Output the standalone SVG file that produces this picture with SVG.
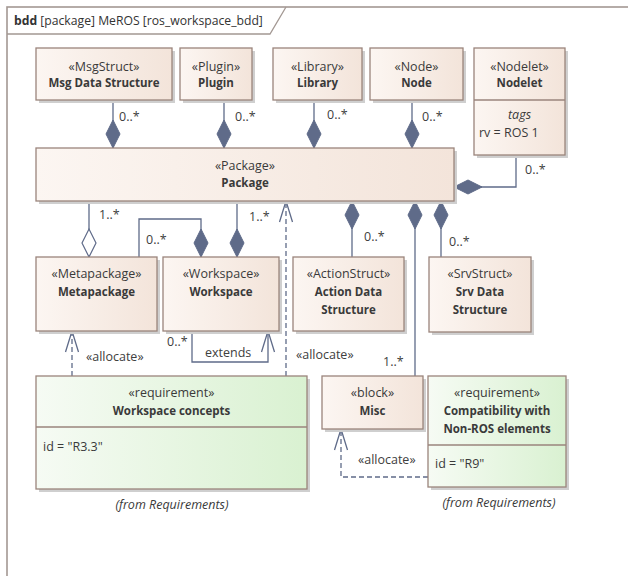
<svg xmlns="http://www.w3.org/2000/svg" width="628" height="576" viewBox="0 0 628 576">
<defs>
<linearGradient id="tan" x1="0" y1="0" x2="1" y2="0"><stop offset="0" stop-color="#fcf6f2"/><stop offset="1" stop-color="#f3e4da"/></linearGradient>
<linearGradient id="grn" x1="0" y1="0" x2="1" y2="0"><stop offset="0" stop-color="#f6fbf4"/><stop offset="1" stop-color="#d9f1d1"/></linearGradient>
<marker id="dia" markerUnits="userSpaceOnUse" markerWidth="40" markerHeight="40" refX="0" refY="0" orient="auto" overflow="visible"><path d="M0,0 L-14,-7 L-28,0 L-14,7 Z" fill="#5f6b89" stroke="#5f6b89" stroke-width="1"/></marker>
<marker id="hdia" markerUnits="userSpaceOnUse" markerWidth="40" markerHeight="40" refX="0" refY="0" orient="auto" overflow="visible"><path d="M0,0 L-14,-7 L-28,0 L-14,7 Z" fill="#ffffff" stroke="#5f6b89" stroke-width="1.2"/></marker>
<marker id="arr" markerUnits="userSpaceOnUse" markerWidth="40" markerHeight="40" refX="0" refY="0" orient="auto" overflow="visible"><path d="M-21,-6.5 L0,0 L-21,6.5" fill="none" stroke="#5f6b89" stroke-width="1.3"/></marker>
</defs>
<style>
.box{fill:url(#tan);stroke:#9a847c;stroke-width:1.3}
.req{fill:url(#grn);stroke:#9a847c;stroke-width:1.3}
.sh{fill:#cfcfcf}
.st{font-family:"Open Sans","Noto Sans",sans-serif;font-size:12.5px;fill:#3a3a3a;text-anchor:middle}
.nm{font-family:"Open Sans","Noto Sans",sans-serif;font-size:11.5px;font-weight:bold;fill:#3a3a3a;text-anchor:middle}
.tx{font-family:"Open Sans","Noto Sans",sans-serif;font-size:12.5px;fill:#3a3a3a}
.it{font-family:"Open Sans","Noto Sans",sans-serif;font-size:12.5px;font-style:italic;fill:#3a3a3a}
.lb{font-family:"Open Sans","Noto Sans",sans-serif;font-size:12.5px;fill:#404040}
.ln{fill:none;stroke:#5f6b89;stroke-width:1.3}
.dl{fill:none;stroke:#5f6b89;stroke-width:1.3;stroke-dasharray:5,3}
.dv{stroke:#9a847c;stroke-width:1.3}
</style>
<rect width="628" height="576" fill="#ffffff"/>
<g id="frame">
<rect x="7" y="7" width="660" height="620" fill="none" stroke="#a39893" stroke-width="1.6"/>
<path d="M7,34 H270 L286,7" fill="none" stroke="#a39893" stroke-width="1.3"/>
<text x="14" y="25" font-family="'Open Sans','Noto Sans',sans-serif" font-size="12.2" fill="#333"><tspan font-weight="bold">bdd</tspan> [package] MeROS [ros_workspace_bdd]</text>
</g>
<g id="connectors">
<path class="ln" d="M113,100 V148" marker-end="url(#dia)"/>
<path class="ln" d="M224,100 V148" marker-end="url(#dia)"/>
<path class="ln" d="M314,100 V148" marker-end="url(#dia)"/>
<path class="ln" d="M412,100 V148" marker-end="url(#dia)"/>
<path class="ln" d="M516,155 V187 H454" marker-end="url(#dia)"/>
<path class="ln" d="M352,257 V201" marker-end="url(#dia)"/>
<path class="ln" d="M415,376 V201" marker-end="url(#dia)"/>
<path class="ln" d="M441,257 V201" marker-end="url(#dia)"/>
<path class="ln" d="M89,201 V257" marker-end="url(#hdia)"/>
<path class="ln" d="M139,257 V219 H201 V257" marker-end="url(#dia)"/>
<path class="ln" d="M237,201 V257" marker-end="url(#dia)"/>
<path class="ln" d="M192,331 V362 H268 V331" marker-end="url(#arr)"/>
<path class="dl" d="M72,376 V331" marker-end="url(#arr)"/>
<path class="dl" d="M286,376 V201" marker-end="url(#arr)"/>
<path class="dl" d="M428,477 H341 V429" marker-end="url(#arr)"/>
<text class="lb" x="119" y="121">0..*</text>
<text class="lb" x="235" y="121">0..*</text>
<text class="lb" x="327" y="119">0..*</text>
<text class="lb" x="422" y="121">0..*</text>
<text class="lb" x="525" y="174">0..*</text>
<text class="lb" x="364" y="241">0..*</text>
<text class="lb" x="383" y="366">1..*</text>
<text class="lb" x="449" y="246">0..*</text>
<text class="lb" x="99" y="219">1..*</text>
<text class="lb" x="146" y="244">0..*</text>
<text class="lb" x="249" y="221">1..*</text>
<text class="lb" x="167" y="346">0..*</text>
<text class="lb" x="205" y="357">extends</text>
<text class="lb" x="86" y="361">«allocate»</text>
<text class="lb" x="296" y="359">«allocate»</text>
<text class="lb" x="358" y="464">«allocate»</text>
</g>
<g id="msg"><rect class="sh" x="39" y="51" width="136" height="52"/><rect class="box" x="36" y="48" width="136" height="52"/><text class="st" x="104" y="71">«MsgStruct»</text><text class="nm" x="104" y="87">Msg Data Structure</text></g>
<g id="plugin"><rect class="sh" x="183" y="51" width="72" height="52"/><rect class="box" x="180" y="48" width="72" height="52"/><text class="st" x="216" y="71">«Plugin»</text><text class="nm" x="216" y="87">Plugin</text></g>
<g id="library"><rect class="sh" x="276" y="51" width="89" height="52"/><rect class="box" x="273" y="48" width="89" height="52"/><text class="st" x="317.5" y="71">«Library»</text><text class="nm" x="317.5" y="87">Library</text></g>
<g id="node"><rect class="sh" x="373" y="51" width="93" height="52"/><rect class="box" x="370" y="48" width="93" height="52"/><text class="st" x="416.5" y="71">«Node»</text><text class="nm" x="416.5" y="87">Node</text></g>
<g id="nodelet"><rect class="sh" x="477" y="51" width="91" height="107"/><rect class="box" x="474" y="48" width="91" height="107"/><line class="dv" x1="474" y1="100" x2="565" y2="100"/><text class="st" x="519.5" y="71">«Nodelet»</text><text class="nm" x="519.5" y="87">Nodelet</text><text class="it" x="519.5" y="119" text-anchor="middle">tags</text><text class="tx" x="479" y="137">rv = ROS 1</text></g>
<g id="package"><rect class="sh" x="39" y="151" width="418" height="53"/><rect class="box" x="36" y="148" width="418" height="53"/><text class="st" x="245" y="170">«Package»</text><text class="nm" x="245" y="187">Package</text></g>
<g id="metapackage"><rect class="sh" x="39" y="260" width="121" height="74"/><rect class="box" x="36" y="257" width="121" height="74"/><text class="st" x="96.5" y="278">«Metapackage»</text><text class="nm" x="96.5" y="296">Metapackage</text></g>
<g id="workspace"><rect class="sh" x="166" y="260" width="116" height="74"/><rect class="box" x="163" y="257" width="116" height="74"/><text class="st" x="221" y="278">«Workspace»</text><text class="nm" x="221" y="296">Workspace</text></g>
<g id="action"><rect class="sh" x="296" y="260" width="111" height="74"/><rect class="box" x="293" y="257" width="111" height="74"/><text class="st" x="348.5" y="278">«ActionStruct»</text><text class="nm" x="348.5" y="296">Action Data</text><text class="nm" x="348.5" y="314">Structure</text></g>
<g id="srv"><rect class="sh" x="432" y="260" width="102" height="75"/><rect class="box" x="429" y="257" width="102" height="75"/><text class="st" x="480" y="278">«SrvStruct»</text><text class="nm" x="480" y="296">Srv Data</text><text class="nm" x="480" y="314">Structure</text></g>
<g id="wsconcepts"><rect class="sh" x="39" y="379" width="271" height="113"/><rect class="req" x="36" y="376" width="271" height="113"/><line class="dv" x1="36" y1="427" x2="307" y2="427"/><text class="st" x="171.5" y="397">«requirement»</text><text class="nm" x="171.5" y="415">Workspace concepts</text><text class="tx" x="43" y="451">id = "R3.3"</text><text class="it" x="172" y="509" text-anchor="middle">(from Requirements)</text></g>
<g id="misc"><rect class="sh" x="325" y="379" width="101" height="53"/><rect class="box" x="322" y="376" width="101" height="53"/><text class="st" x="372.5" y="397">«block»</text><text class="nm" x="372.5" y="415">Misc</text></g>
<g id="compat"><rect class="sh" x="431" y="379" width="138" height="111"/><rect class="req" x="428" y="376" width="138" height="111"/><line class="dv" x1="428" y1="445" x2="566" y2="445"/><text class="st" x="497" y="397">«requirement»</text><text class="nm" x="497" y="415">Compatibility with</text><text class="nm" x="497" y="433">Non-ROS elements</text><text class="tx" x="435" y="468">id = "R9"</text><text class="it" x="499" y="507" text-anchor="middle">(from Requirements)</text></g>
</svg>
